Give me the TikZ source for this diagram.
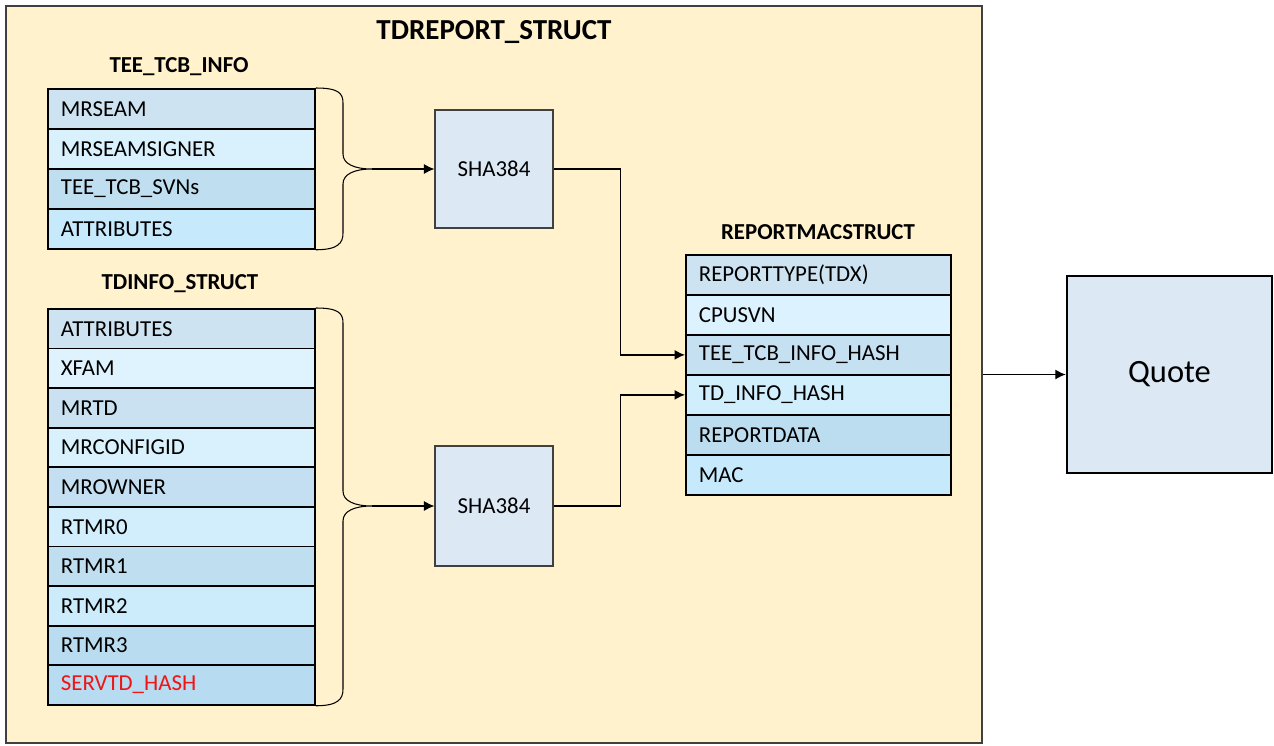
\documentclass[tikz,border=0pt]{standalone}
\usepackage{fontspec}
\setmainfont{Carlito}
\usetikzlibrary{arrows.meta,positioning,calc}
\definecolor{cream}{RGB}{255,242,204}
\definecolor{frame}{RGB}{64,64,64}
\definecolor{hashbox}{RGB}{220,233,245}
\definecolor{darktop}{RGB}{206,227,241}
\definecolor{darkbot}{RGB}{183,219,240}
\definecolor{lighttop}{RGB}{225,244,254}
\definecolor{lightbot}{RGB}{198,234,252}
\definecolor{fieldred}{RGB}{240,20,20}
\newcommand{\newfield}[1]{\textcolor{fieldred}{#1}}
\newcommand{\pickfill}[2]{\ifnum#1=1 \colorlet{rowfill}{darktop!#2!darkbot}\else\colorlet{rowfill}{lighttop!#2!lightbot}\fi}
\tikzset{
  field/.style={draw=black,line width=1pt,fill=rowfill,anchor=north west,minimum width=5.34cm,
    minimum height=0.8cm,inner xsep=0.26cm,text width=4.82cm,align=left,font=\fontsize{13}{15}\selectfont},
  hash/.style={draw=frame,line width=0.6pt,fill=hashbox,minimum width=2.36cm,minimum height=2.36cm,
    font=\fontsize{13}{15}\selectfont},
  caption/.style={font=\fontsize{13}{15}\selectfont\bfseries},
  link/.style={line width=0.75pt,-{Latex[length=2.1mm,width=2mm]}},
  brace/.style={line width=0.6pt}
}
\begin{document}
\begin{tikzpicture}
  \useasboundingbox (0,0) rectangle (25.48,-14.92);
  \node[draw=frame,line width=1.1pt,fill=cream,minimum width=19.52cm,minimum height=14.74cm,inner sep=0] (report) at (9.88,-7.49) {};
  \node[font=\fontsize{16.5}{18}\selectfont\bfseries] (title) at (9.88,-0.64) {TDREPORT\_STRUCT};

  % TEE_TCB_INFO
  \node[caption] (tcbcap) at (3.58,-1.34) {TEE\_TCB\_INFO};
  \foreach \t/\k [count=\i] in {MRSEAM/1,MRSEAMSIGNER/0,TEE\_TCB\_SVNs/1,ATTRIBUTES/0}{
    \pgfmathtruncatemacro\m{100-100*(\i-1)/3}
    \pickfill{\k}{\m}
    \node[field] (tcb\i) at (0.94,{-0.96-0.8*\i}) {\t};
  }

  % TDINFO_STRUCT
  \node[caption] (tdicap) at (3.6,-5.68) {TDINFO\_STRUCT};
  \foreach \t/\k [count=\i] in {ATTRIBUTES/1,XFAM/0,MRTD/1,MRCONFIGID/0,MROWNER/1,
                                RTMR0/0,RTMR1/1,RTMR2/0,RTMR3/1,\newfield{SERVTD\_HASH}/1}{
    \pgfmathtruncatemacro\m{100-100*(\i-1)/9}
    \pickfill{\k}{\m}
    \node[field,minimum height=0.792cm] (tdi\i) at (0.94,{-5.368-0.792*\i}) {\t};
  }

  % REPORTMACSTRUCT
  \node[caption] (maccap) at (16.36,-4.64) {REPORTMACSTRUCT};
  \foreach \t/\k [count=\i] in {REPORTTYPE(TDX)/1,CPUSVN/0,TEE\_TCB\_INFO\_HASH/1,
                                TD\_INFO\_HASH/0,REPORTDATA/1,MAC/0}{
    \pgfmathtruncatemacro\m{100-100*(\i-1)/5}
    \pickfill{\k}{\m}
    \node[field,minimum width=5.3cm,text width=4.78cm] (mac\i) at (13.7,{-4.28-0.8*\i}) {\t};
  }

  \node[hash] (sha1) at (9.88,-3.38) {SHA384};
  \node[hash,minimum height=2.4cm] (sha2) at (9.88,-10.12) {SHA384};
  \node[draw=black,line width=1.4pt,fill=hashbox,minimum width=4.1cm,minimum height=3.94cm,
    font=\fontsize{18.5}{20}\selectfont] (quote) at (23.39,-7.49) {Quote};

  % braces
  \coordinate (tipA) at (7.44,-3.38);
  \coordinate (tipB) at (7.44,-10.12);
  \draw[brace] (tcb1.north east) .. controls +(0.45,0) and +(0,0.2) .. (6.86,-2.06) -- (6.86,-3.08)
    .. controls +(0,-0.2) and +(-0.35,0) .. (tipA) .. controls +(-0.35,0) and +(0,0.2) .. (6.86,-3.68)
    -- (6.86,-4.66) .. controls +(0,-0.2) and +(0.45,0) .. (tcb4.south east);
  \draw[brace] (tdi1.north east) .. controls +(0.45,0) and +(0,0.2) .. (6.86,-6.46) -- (6.86,-9.82)
    .. controls +(0,-0.2) and +(-0.35,0) .. (tipB) .. controls +(-0.35,0) and +(0,0.2) .. (6.86,-10.42)
    -- (6.86,-13.78) .. controls +(0,-0.2) and +(0.45,0) .. (tdi10.south east);

  \draw[link] (tipA) -- (sha1.west);
  \draw[link] (tipB) -- (sha2.west);
  \draw[link] (sha1.east) -- ++(1.34,0) |- (mac3.west);
  \draw[link] (sha2.east) -- ++(1.34,0) |- (mac4.west);
  \draw[link] (report.east |- quote.west) -- (quote.west);
\end{tikzpicture}
\end{document}
